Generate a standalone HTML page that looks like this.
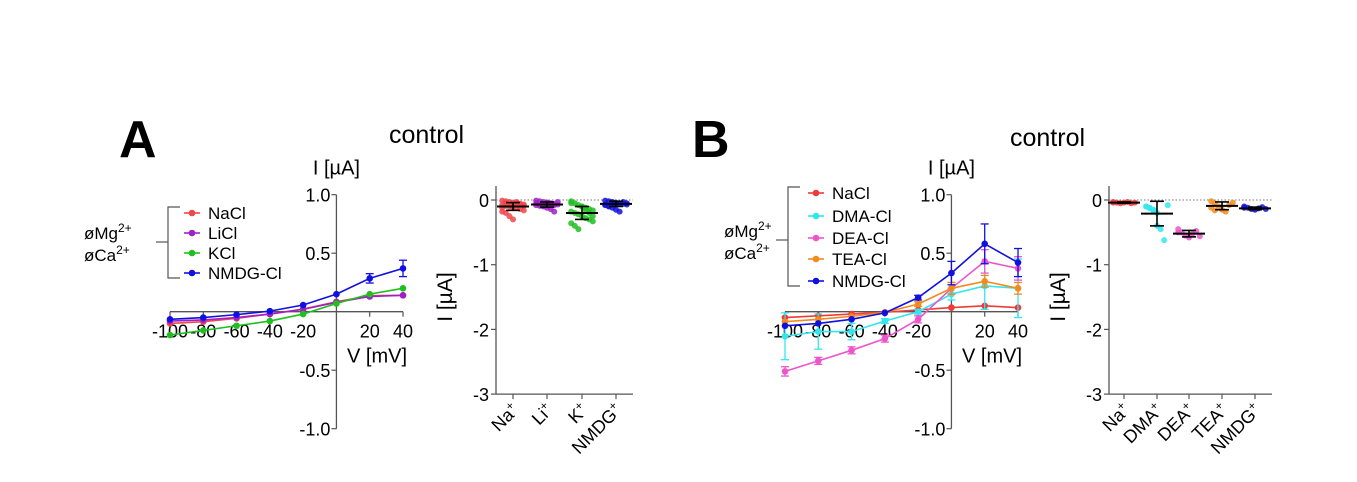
<!DOCTYPE html>
<html><head><meta charset="utf-8"><style>
html,body{margin:0;padding:0;background:#fff;}
svg{display:block;font-family:"Liberation Sans",Arial,sans-serif;}
</style></head><body>
<svg id="fig" width="1357" height="482" viewBox="0 0 1357 482" xmlns="http://www.w3.org/2000/svg">
<text x="119" y="157" font-size="52" font-weight="bold">A</text>
<text x="389" y="143" font-size="25">control</text>
<text x="692" y="157" font-size="52" font-weight="bold">B</text>
<text x="1010" y="146" font-size="25">control</text>
<g id="gA"></g>
<g id="gB"></g>
<g id="sA"></g>
<g id="sB"></g>
</svg>
<script>
const voltages=[-100,-80,-60,-40,-20,0,20,40];
const xTickLabels=["-100","-80","-60","-40","-20","20","40"];
const xTickValues=[-100,-80,-60,-40,-20,20,40];
const yTickValues=[1.0,0.5,-0.5,-1.0];
const yTickLabels=["1.0","0.5","-0.5","-1.0"];
// Panel A
const aNames=["NaCl","LiCl","KCl","NMDG-Cl"];
const aColors=["#f0474a","#a020c8","#1fbf1f","#1010e0"];
const aNaCl=[-0.1,-0.085,-0.057,-0.02,0.023,0.085,0.137,0.14];
const aLiCl=[-0.08,-0.07,-0.05,-0.02,0.02,0.08,0.13,0.14];
const aKCl=[-0.2,-0.16,-0.12,-0.08,-0.02,0.07,0.15,0.2];
const aNMDG=[-0.065,-0.05,-0.025,0.005,0.057,0.15,0.285,0.37];
const aNMDGerr=[0.01,0.01,0.01,0.01,0.01,0.01,0.04,0.07];
// Panel B
const bNames=["NaCl","DMA-Cl","DEA-Cl","TEA-Cl","NMDG-Cl"];
const bColors=["#ee3a3a","#33e6ee","#ee55cc","#f28a1e","#1010e0"];
const bNaCl=[-0.05,-0.035,-0.02,-0.005,0.015,0.035,0.05,0.035];
const bDMA=[-0.21,-0.17,-0.17,-0.08,0,0.15,0.22,0.2];
const bDMAerr=[0.2,0.15,0.07,0.02,0.02,0.05,0.2,0.25];
const bDEA=[-0.51,-0.42,-0.33,-0.23,-0.065,0.2,0.43,0.37];
const bDEAerr=[0.04,0.03,0.03,0.03,0.03,0.05,0.1,0.1];
const bTEA=[-0.085,-0.065,-0.04,-0.005,0.065,0.2,0.26,0.2];
const bTEAerr=[0.01,0.01,0.01,0.01,0.02,0.05,0.05,0.05];
const bNMDG=[-0.12,-0.1,-0.065,-0.01,0.12,0.33,0.58,0.42];
const bNMDGerr=[0.01,0.01,0.01,0.01,0.02,0.1,0.17,0.12];
// Scatter A
const sACats=["Na","Li","K","NMDG"];
const sAColors=["#f0474a","#a020c8","#1fbf1f","#1010e0"];
const sAMeans=[-0.1,-0.07,-0.2,-0.06];
const sASD=[0.06,0.04,0.1,0.04];
const sAPts=[[-0.01,-0.02,-0.03,-0.04,-0.05,-0.06,-0.07,-0.08,-0.09,-0.1,-0.11,-0.12,-0.14,-0.16,-0.18,-0.2,-0.25,-0.3,-0.03,-0.06,-0.09,-0.12,-0.05,-0.08],[-0.01,-0.02,-0.03,-0.04,-0.05,-0.06,-0.07,-0.08,-0.09,-0.1,-0.12,-0.14,-0.18,-0.03,-0.05,-0.07,-0.09,-0.04,-0.06,-0.08],[-0.02,-0.05,-0.08,-0.1,-0.12,-0.14,-0.16,-0.18,-0.2,-0.22,-0.25,-0.28,-0.3,-0.33,-0.36,-0.4,-0.45,-0.1,-0.15,-0.2,-0.25,-0.05],[-0.01,-0.02,-0.03,-0.04,-0.05,-0.06,-0.07,-0.08,-0.1,-0.12,-0.15,-0.18,-0.03,-0.05,-0.07,-0.09,-0.04,-0.06]];
// Scatter B
const sBCats=["Na","DMA","DEA","TEA","NMDG"];
const sBColors=["#ee3a3a","#33e6ee","#ee55cc","#f28a1e","#1010e0"];
const sBMeans=[-0.04,-0.21,-0.52,-0.09,-0.13];
const sBSD=[0.01,0.19,0.05,0.06,0.02];
const sBPts=[[-0.03,-0.04,-0.05,-0.04,-0.03,-0.05,-0.04,-0.04],[-0.1,-0.12,-0.15,-0.2,-0.45,-0.62,-0.08,-0.1,-0.13,-0.16,-0.4],[-0.45,-0.5,-0.55,-0.58,-0.52,-0.48,-0.56,-0.5],[-0.02,-0.05,-0.1,-0.15,-0.18,-0.08,-0.04,-0.12,-0.16],[-0.1,-0.12,-0.14,-0.15,-0.13,-0.11,-0.14,-0.12]];
const NS="http://www.w3.org/2000/svg";
function mk(p,t,a){const e=document.createElementNS(NS,t);for(const k in a)e.setAttribute(k,a[k]);p.appendChild(e);return e;}
function txt(p,x,y,s,size,anchor,extra){const e=mk(p,'text',Object.assign({x:x,y:y,'font-size':size,'text-anchor':anchor||'start'},extra||{}));e.textContent=s;return e;}

function ivChart(g,ax,series,errs,names,colors,legend){
  const X=v=>ax.x0+(v-(-100))*(ax.x1-ax.x0)/140;
  const Y=v=>ax.yz-v*ax.pu;
  const xa=mk(g,'line',{x1:X(-100),x2:X(40),y1:Y(0),y2:Y(0),stroke:'#555','stroke-width':1.3});
  
  
  const ya=mk(g,'line',{x1:X(0),x2:X(0),y1:Y(1),y2:Y(-1),stroke:'#555','stroke-width':1.3});
  
  
  xTickValues.forEach((v,i)=>{
    mk(g,'line',{x1:X(v),x2:X(v),y1:Y(0),y2:Y(0)+5,stroke:'#555','stroke-width':1.2});
    const t=txt(g,X(v),Y(0)+26,xTickLabels[i],18,'middle');
    
    
  });
  yTickValues.forEach((v,i)=>{
    mk(g,'line',{x1:X(0)-5,x2:X(0),y1:Y(v),y2:Y(v),stroke:'#555','stroke-width':1.2});
    const t=txt(g,X(0)-6,Y(v)+7,yTickLabels[i],18,'end');
    
    
  });
  const yt=txt(g,X(0),Y(1)-20,'I [µA]',20,'middle');
  
  
  const xt=txt(g,X(40)+4,Y(0)+51,'V [mV]',20,'end');
  
  
  series.forEach((s,si)=>{
    const c=colors[si];
    const pl=mk(g,'polyline',{points:s.map((v,i)=>X(voltages[i])+','+Y(v)).join(' '),fill:'none',stroke:c,'stroke-width':1.6});
    
    
    s.forEach((v,i)=>{
      const e=errs[si]?errs[si][i]:0;
      if(e>0.015){
        mk(g,'line',{x1:X(voltages[i]),x2:X(voltages[i]),y1:Y(v+e),y2:Y(v-e),stroke:c,'stroke-width':1.3});
        mk(g,'line',{x1:X(voltages[i])-4,x2:X(voltages[i])+4,y1:Y(v+e),y2:Y(v+e),stroke:c,'stroke-width':1.3});
        mk(g,'line',{x1:X(voltages[i])-4,x2:X(voltages[i])+4,y1:Y(v-e),y2:Y(v-e),stroke:c,'stroke-width':1.3});
      }
      const pt=mk(g,'circle',{cx:X(voltages[i]),cy:Y(v),r:3.3,fill:c});
      
      
    });
  });
  const L=legend;
  const lg=mk(g,'g',{});
  
  
  mk(lg,'polyline',{points:`${L.bx+12},${L.ys[0]-6} ${L.bx},${L.ys[0]-6} ${L.bx},${L.ys[L.ys.length-1]+5} ${L.bx+12},${L.ys[L.ys.length-1]+5}`,fill:'none',stroke:'#555','stroke-width':1.2});
  mk(lg,'line',{x1:L.bx-12,x2:L.bx,y1:L.my,y2:L.my,stroke:'#555','stroke-width':1.2});
  const m1=txt(lg,L.lx,L.my-3,'øMg',17,'start');
  mk(m1,'tspan',{'baseline-shift':'super','font-size':12}).textContent='2+';
  const m2=txt(lg,L.lx,L.my+19,'øCa',17,'start');
  mk(m2,'tspan',{'baseline-shift':'super','font-size':12}).textContent='2+';
  names.forEach((n,i)=>{
    const y=L.ys[i];
    mk(lg,'line',{x1:L.mx,x2:L.mx+16,y1:y,y2:y,stroke:colors[i],'stroke-width':1.6});
    mk(lg,'circle',{cx:L.mx+8,cy:y,r:3.3,fill:colors[i]});
    const t=txt(lg,L.mx+24,y+6,n,17,'start');
    
    
  });
}
ivChart(document.getElementById('gA'),{x0:170,x1:403,yz:311.7,pu:117},[aNaCl,aLiCl,aKCl,aNMDG],[null,null,null,aNMDGerr],aNames,aColors,
  {bx:168,ys:[213,233,253,273],mx:184,lx:84,my:242});
ivChart(document.getElementById('gB'),{x0:785,x1:1018,yz:311.7,pu:117},[bNaCl,bDMA,bDEA,bTEA,bNMDG],[null,bDMAerr,bDEAerr,bTEAerr,bNMDGerr],bNames,bColors,
  {bx:788,ys:[193,216,238,259,281],mx:808,lx:724,my:240});

function scatter(g,ax,cats,colors,means,sds,pts){
  const Y=v=>ax.y0-v*ax.pu;
  const ya=mk(g,'line',{x1:ax.x,x2:ax.x,y1:Y(0)-14,y2:Y(-3),stroke:'#555','stroke-width':1.3});
  
  
  const xa=mk(g,'line',{x1:ax.x,x2:ax.xe,y1:Y(-3),y2:Y(-3),stroke:'#555','stroke-width':1.3});
  
  
  mk(g,'line',{x1:ax.x,x2:ax.xe,y1:Y(0),y2:Y(0),stroke:'#777','stroke-width':1,'stroke-dasharray':'1.5,2'});
  [0,-1,-2,-3].forEach(v=>{
    mk(g,'line',{x1:ax.x-5,x2:ax.x,y1:Y(v),y2:Y(v),stroke:'#555','stroke-width':1.2});
    const t=txt(g,ax.x-7,Y(v)+7,String(v),18,'end');
    
    
  });
  const yt=txt(g,0,0,'I [µA]',21,'middle',{transform:`translate(${ax.x-44},${Y(-1.5)}) rotate(-90)`});
  
  
  cats.forEach((c,i)=>{
    const cx=ax.cx[i];
    mk(g,'line',{x1:cx,x2:cx,y1:Y(-3),y2:Y(-3)+5,stroke:'#555','stroke-width':1.2});
    const t=txt(g,0,0,c,18,'end',{transform:`translate(${cx+7},${Y(-3)+17}) rotate(-45)`});
    mk(t,'tspan',{'baseline-shift':'super','font-size':12}).textContent='+';
    
    
    pts[i].forEach((v,j)=>{
      const off=((j%7)-3)*3.6;
      const p=mk(g,'circle',{cx:cx+off,cy:Y(v),r:3,fill:colors[i],opacity:0.85});
      
      
    });
    const m=means[i],s=sds[i];
    mk(g,'line',{x1:cx-16,x2:cx+16,y1:Y(m),y2:Y(m),stroke:'#000','stroke-width':2});
    mk(g,'line',{x1:cx,x2:cx,y1:Y(m+s),y2:Y(m-s),stroke:'#000','stroke-width':1.6});
    mk(g,'line',{x1:cx-7,x2:cx+7,y1:Y(m+s),y2:Y(m+s),stroke:'#000','stroke-width':1.6});
    mk(g,'line',{x1:cx-7,x2:cx+7,y1:Y(m-s),y2:Y(m-s),stroke:'#000','stroke-width':1.6});
  });
}
scatter(document.getElementById('sA'),{x:496,xe:633,y0:200,pu:64.7,cx:[513,547,582,616]},sACats,sAColors,sAMeans,sASD,sAPts);
scatter(document.getElementById('sB'),{x:1109,xe:1272,y0:200,pu:64.7,cx:[1124,1157,1189,1222,1255]},sBCats,sBColors,sBMeans,sBSD,sBPts);
</script>
</body></html>
